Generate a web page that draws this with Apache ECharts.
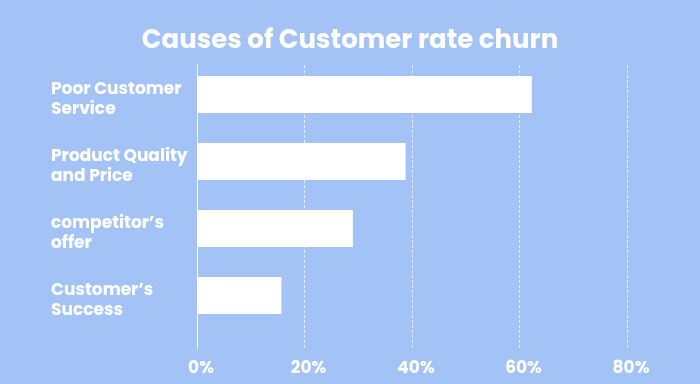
<!DOCTYPE html>
<html>
<head>
<meta charset="utf-8">
<script src="https://cdn.jsdelivr.net/npm/echarts@6/dist/echarts.min.js"></script>
<style>html,body{margin:0;padding:0;background:#a3c3f7;}#c{width:700px;height:384px;}</style>
</head>
<body>
<div id="c"></div>
<script>
const titleText = 'Causes of Customer rate churn';
const categories = ['Poor Customer\nService', 'Product Quality\nand Price', 'competitor’s\noffer', 'Customer’s\nSuccess'];
const values = [62.3, 38.8, 29, 15.7];
const tickValues = [0, 20, 40, 60, 80];

const FONT = 'Poppins, "Open Sans", sans-serif';
const chart = echarts.init(document.getElementById('c'));
chart.setOption({
  backgroundColor: '#a3c3f7',
  animation: false,
  title: {
    text: titleText, left: 'center', top: 23,
    textStyle: { color: '#ffffff', fontSize: 26, fontWeight: 'bold', fontFamily: FONT }
  },
  grid: [
    { left: 197, right: 73, top: 61, height: 268 },
    { left: 197, right: 73, top: 65, bottom: 35 },
    { left: 197, right: 73, top: 66, height: 268 }
  ],
  xAxis: [
    { gridIndex: 0, type: 'value', min: tickValues[0], max: tickValues[tickValues.length - 1], interval: 20, show: false },
    { gridIndex: 1, type: 'value', min: tickValues[0], max: tickValues[tickValues.length - 1], interval: 20,
      axisLine: { show: false }, axisTick: { show: false },
      axisLabel: { color: '#ffffff', fontSize: 17, fontWeight: 'bold', fontFamily: FONT, margin: 11,
        padding: [0, 0, 0, 8], formatter: v => v + '%' },
      splitLine: { show: true, lineStyle: { color: 'rgba(255,255,255,0.7)', type: [3, 2], width: 1 } }
    },
    { gridIndex: 2, type: 'value', min: tickValues[0], max: tickValues[tickValues.length - 1], show: false }
  ],
  yAxis: [
    { gridIndex: 0, type: 'category', data: categories, inverse: true,
      axisLine: { show: false }, axisTick: { show: false }, axisLabel: { show: false } },
    { gridIndex: 1, type: 'category', data: categories, show: true,
      axisLine: { show: true, lineStyle: { color: '#ffffff', width: 1 } },
      axisTick: { show: false }, axisLabel: { show: false }, splitLine: { show: false } },
    { gridIndex: 2, type: 'category', data: categories, inverse: true,
      axisLine: { show: false }, axisTick: { show: false }, splitLine: { show: false },
      axisLabel: { color: '#ffffff', fontSize: 17, fontWeight: 'bold', fontFamily: FONT,
        align: 'left', margin: 146, lineHeight: 20 } }
  ],
  series: [{
    type: 'bar', xAxisIndex: 0, yAxisIndex: 0, data: values, barWidth: 37,
    itemStyle: { color: '#ffffff' }, z: 5
  }]
});
</script>
</body>
</html>
